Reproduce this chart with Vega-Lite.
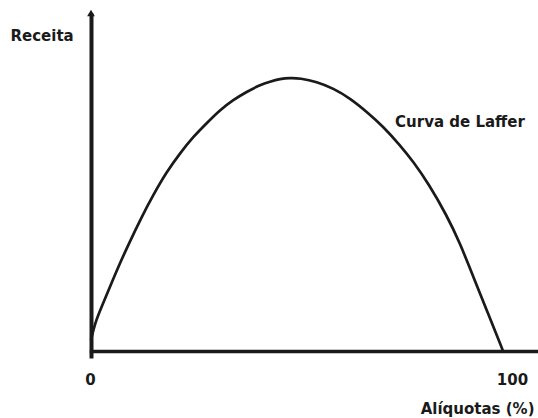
{
  "$schema": "https://vega.github.io/schema/vega-lite/v6.json",
  "autosize": "none",
  "width": 447,
  "height": 338,
  "padding": {"left": 91, "top": 13, "right": 0, "bottom": 67},
  "background": "white",
  "config": {
    "view": {"stroke": null},
    "font": "DejaVu Sans"
  },
  "datasets": {
    "curve": [
      {"aliquota": 0, "receita": 3.25},
      {"aliquota": 0.97, "receita": 8.3},
      {"aliquota": 2.6, "receita": 13.1},
      {"aliquota": 4.61, "receita": 19.0},
      {"aliquota": 6.63, "receita": 24.9},
      {"aliquota": 9.05, "receita": 31.4},
      {"aliquota": 12.31, "receita": 39.7},
      {"aliquota": 15.12, "receita": 46.2},
      {"aliquota": 18.37, "receita": 53.0},
      {"aliquota": 21.6, "receita": 58.5},
      {"aliquota": 24.83, "receita": 63.4},
      {"aliquota": 28.08, "receita": 67.4},
      {"aliquota": 31.31, "receita": 71.3},
      {"aliquota": 34.54, "receita": 74.3},
      {"aliquota": 37.79, "receita": 76.7},
      {"aliquota": 41.02, "receita": 78.7},
      {"aliquota": 43.45, "receita": 79.7},
      {"aliquota": 45.87, "receita": 80.5},
      {"aliquota": 48.3, "receita": 80.8},
      {"aliquota": 50.73, "receita": 80.7},
      {"aliquota": 54.78, "receita": 79.7},
      {"aliquota": 58.81, "receita": 77.7},
      {"aliquota": 62.86, "receita": 74.8},
      {"aliquota": 66.92, "receita": 70.8},
      {"aliquota": 70.95, "receita": 66.4},
      {"aliquota": 75.0, "receita": 60.9},
      {"aliquota": 78.23, "receita": 56.0},
      {"aliquota": 81.87, "receita": 49.6},
      {"aliquota": 86.33, "receita": 40.2},
      {"aliquota": 89.56, "receita": 31.9},
      {"aliquota": 92.79, "receita": 22.0},
      {"aliquota": 96.04, "receita": 12.1},
      {"aliquota": 99.68, "receita": 1.1},
      {"aliquota": 100, "receita": 0}
    ],
    "arrow": [{"aliquota": 0, "receita": 100}],
    "label": [{"aliquota": 73.8, "receita": 67.8, "text": "Curva de Laffer"}]
  },
  "layer": [
    {
      "data": {"name": "curve"},
      "mark": {"type": "line", "color": "#1a1a1a", "strokeWidth": 2.7, "interpolate": "basis"},
      "encoding": {
        "x": {
          "field": "aliquota", "type": "quantitative",
          "scale": {"domain": [0, 108.5], "nice": false, "zero": false},
          "axis": {
            "values": [0, 100],
            "grid": false,
            "domainColor": "#1a1a1a",
            "domainWidth": 3.5,
            "domainCap": "square",
            "ticks": true,
            "tickSize": 7,
            "tickWidth": 4,
            "tickColor": {"condition": {"test": "datum.value == 0", "value": "#1a1a1a"}, "value": "transparent"},
            "labelFlush": false,
            "labelFontSize": 15,
            "labelFontWeight": "bold",
            "labelColor": "#1a1a1a",
            "labelPadding": 14,
            "labelOffset": {"condition": {"test": "datum.value == 100", "value": 9}, "value": -1},
            "title": "Alíquotas (%)",
            "titleFontSize": 15,
            "titleFontWeight": "bold",
            "titleColor": "#1a1a1a",
            "titleAlign": "right",
            "titleBaseline": "middle",
            "titleAnchor": null,
            "titleX": 443,
            "titleY": 57
          }
        },
        "y": {
          "field": "receita", "type": "quantitative",
          "scale": {"domain": [0, 100], "nice": false, "zero": false},
          "axis": {
            "grid": false,
            "ticks": false,
            "labels": false,
            "domainColor": "#1a1a1a",
            "domainWidth": 4,
            "title": "Receita",
            "titleAngle": 0,
            "titleFontSize": 15,
            "titleFontWeight": "bold",
            "titleColor": "#1a1a1a",
            "titleAlign": "left",
            "titleBaseline": "middle",
            "titleAnchor": null,
            "titleX": -81,
            "titleY": 22
          }
        }
      }
    },
    {
      "data": {"name": "arrow"},
      "mark": {"type": "point", "shape": "triangle-up", "filled": true, "color": "#1a1a1a", "size": 60, "opacity": 1},
      "encoding": {
        "x": {"field": "aliquota", "type": "quantitative"},
        "y": {"field": "receita", "type": "quantitative"}
      }
    },
    {
      "data": {"name": "label"},
      "mark": {"type": "text", "align": "left", "baseline": "middle", "fontSize": 15, "fontWeight": "bold", "color": "#1a1a1a"},
      "encoding": {
        "x": {"field": "aliquota", "type": "quantitative"},
        "y": {"field": "receita", "type": "quantitative"},
        "text": {"field": "text"}
      }
    }
  ]
}
